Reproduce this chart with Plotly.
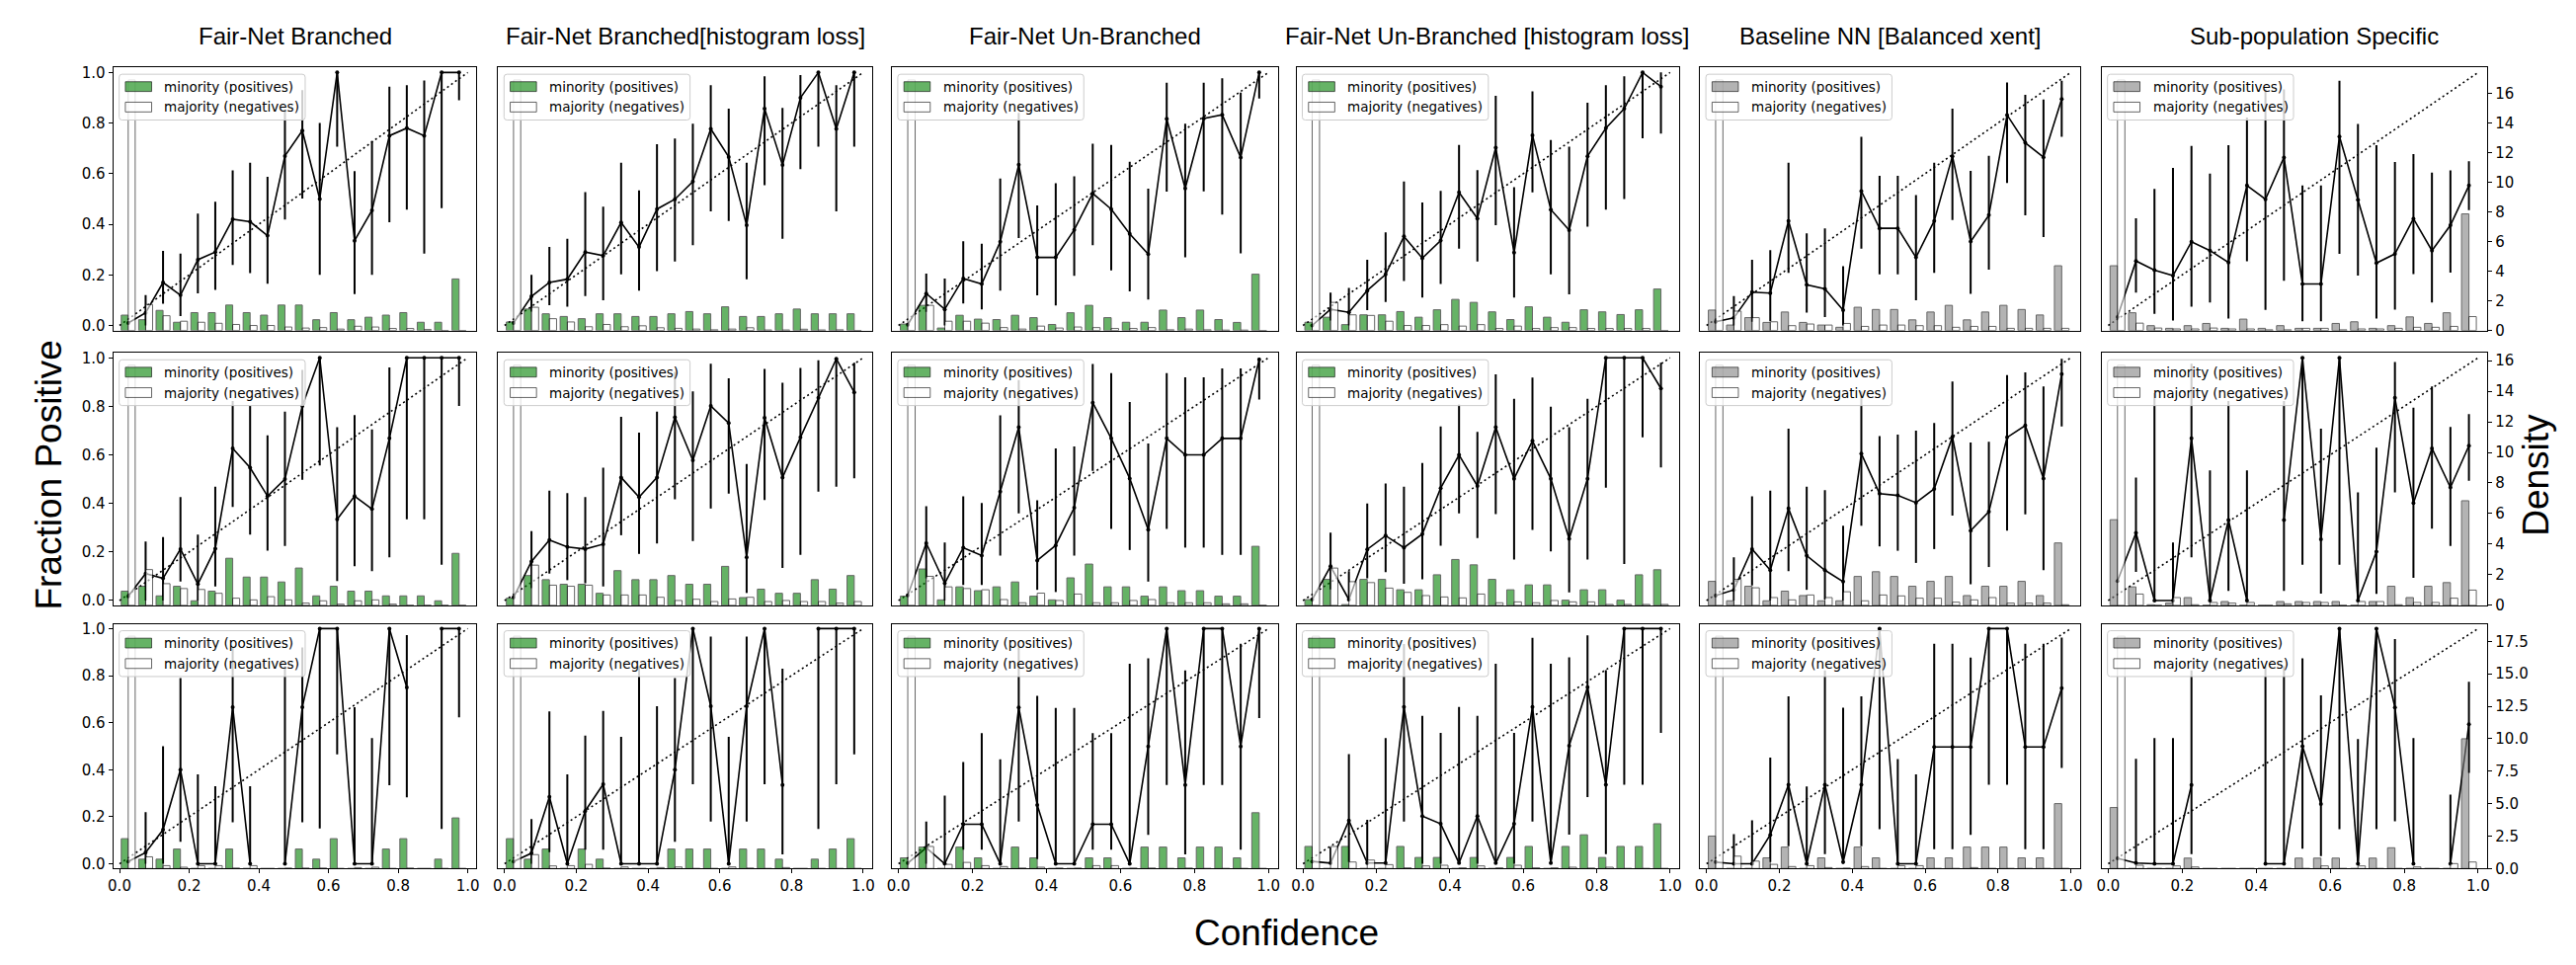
import numpy as np
import plotly.graph_objects as go

W, H = 2608, 977

# ---------------- data ----------------
col_titles = ["Fair-Net Branched", "Fair-Net Branched[histogram loss]", "Fair-Net Un-Branched",
              "Fair-Net Un-Branched [histogram loss]", "Baseline NN [Balanced xent]", "Sub-population Specific"]
legend_labels = ["minority (positives)", "majority (negatives)"]
bin_edges = np.linspace(0, 1, 21)
x_ticks = [0.0, 0.2, 0.4, 0.6, 0.8, 1.0]
frac_ticks = [0.0, 0.2, 0.4, 0.6, 0.8, 1.0]
density_ticks_r1 = [0, 2, 4, 6, 8, 10, 12, 14, 16]
density_ticks_r2 = [0, 2, 4, 6, 8, 10, 12, 14, 16]
density_ticks_r3 = [0, 2.5, 5, 7.5, 10, 12.5, 15, 17.5]
density_max = [17.75, 16.5, 18.85]

# Row 1
r1c1_frac = [0.01, 0.05, 0.17, 0.12, 0.26, 0.29, 0.42, 0.41, 0.355, 0.67, 0.77, 0.50, 1.0, 0.335, 0.455, 0.75, 0.78, 0.75, 1.0, 1.0]
r1c1_lo = [0.01, 0.0, 0.086, 0.037, 0.127, 0.141, 0.239, 0.207, 0.165, 0.419, 0.502, 0.20, 0.707, 0.124, 0.20, 0.408, 0.458, 0.284, 0.464, 0.89]
r1c1_hi = [0.01, 0.12, 0.295, 0.284, 0.442, 0.489, 0.613, 0.643, 0.588, 0.854, 0.93, 0.80, 1.0, 0.61, 0.729, 0.944, 0.95, 0.968, 1.0, 1.0]
r1c1_min = [1.04, 0.73, 1.36, 0.56, 1.21, 1.21, 1.72, 1.21, 1.04, 1.72, 1.72, 0.73, 1.21, 0.73, 0.90, 1.04, 1.21, 0.56, 0.56, 3.48]
r1c1_maj = [16.9, 1.76, 1.0, 0.63, 0.56, 0.49, 0.41, 0.34, 0.34, 0.24, 0.17, 0.2, 0.1, 0.29, 0.24, 0.14, 0.14, 0.07, 0.0, 0.0]

r1c2_frac = [0.01, 0.115, 0.17, 0.183, 0.29, 0.276, 0.407, 0.31, 0.46, 0.499, 0.569, 0.777, 0.666, 0.396, 0.857, 0.634, 0.90, 1.0, 0.777, 1.0]
r1c2_lo = [0.01, 0.055, 0.08, 0.074, 0.116, 0.10, 0.202, 0.138, 0.215, 0.253, 0.317, 0.451, 0.413, 0.183, 0.554, 0.343, 0.618, 0.707, 0.451, 0.707]
r1c2_hi = [0.01, 0.2, 0.31, 0.343, 0.527, 0.47, 0.643, 0.534, 0.716, 0.739, 0.797, 0.95, 0.857, 0.643, 0.985, 0.86, 0.99, 1.0, 0.95, 1.0]
r1c2_min = [0.58, 1.45, 1.13, 0.95, 0.80, 1.13, 1.13, 0.95, 0.95, 1.13, 1.28, 1.13, 1.60, 0.95, 0.95, 1.13, 1.45, 1.13, 1.13, 1.13]
r1c2_maj = [16.9, 1.57, 0.80, 0.58, 0.26, 0.41, 0.26, 0.32, 0.19, 0.15, 0.10, 0.05, 0.10, 0.19, 0.04, 0.04, 0.09, 0.04, 0.05, 0.0]

r1c3_frac = [0.003, 0.126, 0.064, 0.186, 0.164, 0.331, 0.635, 0.269, 0.269, 0.378, 0.522, 0.46, 0.362, 0.282, 0.817, 0.542, 0.818, 0.833, 0.664, 1.0]
r1c3_lo = [0.003, 0.054, 0.0, 0.087, 0.064, 0.138, 0.346, 0.119, 0.079, 0.196, 0.317, 0.218, 0.135, 0.103, 0.529, 0.269, 0.53, 0.438, 0.285, 0.897]
r1c3_hi = [0.003, 0.205, 0.186, 0.333, 0.323, 0.581, 0.84, 0.474, 0.562, 0.59, 0.718, 0.714, 0.647, 0.541, 0.959, 0.797, 0.959, 0.977, 0.92, 1.0]
r1c3_min = [0.44, 1.7, 0.17, 1.03, 0.77, 0.74, 1.03, 0.87, 0.41, 1.2, 1.7, 0.87, 0.56, 0.56, 1.38, 0.87, 1.38, 0.74, 0.55, 3.8]
r1c3_maj = [16.9, 1.7, 0.63, 0.63, 0.5, 0.2, 0.1, 0.3, 0.17, 0.24, 0.2, 0.14, 0.14, 0.2, 0.05, 0.1, 0.05, 0.03, 0.03, 0.0]

r1c4_frac = [0.0, 0.064, 0.052, 0.138, 0.202, 0.352, 0.266, 0.336, 0.526, 0.423, 0.703, 0.288, 0.752, 0.458, 0.377, 0.669, 0.78, 0.857, 1.0, 0.944]
r1c4_lo = [0.0, 0.02, 0.0, 0.061, 0.093, 0.176, 0.11, 0.164, 0.304, 0.253, 0.396, 0.11, 0.526, 0.202, 0.123, 0.39, 0.458, 0.5, 0.74, 0.758]
r1c4_hi = [0.0, 0.13, 0.148, 0.26, 0.368, 0.569, 0.486, 0.532, 0.714, 0.614, 0.908, 0.547, 0.925, 0.733, 0.707, 0.88, 0.95, 0.985, 1.0, 1.0]
r1c4_min = [0.56, 0.9, 0.4, 1.06, 1.06, 1.28, 0.9, 1.4, 2.1, 1.9, 1.26, 0.74, 1.6, 0.9, 0.56, 1.4, 1.26, 1.08, 1.4, 2.8]
r1c4_maj = [16.9, 1.9, 1.06, 1.02, 0.63, 0.34, 0.34, 0.4, 0.3, 0.4, 0.14, 0.3, 0.14, 0.2, 0.2, 0.14, 0.14, 0.14, 0.14, 0.0]

r1c5_frac = [0.015, 0.03, 0.132, 0.128, 0.413, 0.161, 0.145, 0.061, 0.531, 0.384, 0.384, 0.269, 0.413, 0.669, 0.332, 0.436, 0.832, 0.722, 0.665, 0.895]
r1c5_lo = [0.015, 0.0, 0.015, 0.017, 0.208, 0.051, 0.033, 0.0, 0.304, 0.202, 0.202, 0.1, 0.208, 0.417, 0.125, 0.221, 0.563, 0.435, 0.349, 0.746]
r1c5_hi = [0.015, 0.116, 0.26, 0.298, 0.643, 0.364, 0.384, 0.234, 0.746, 0.592, 0.592, 0.515, 0.643, 0.857, 0.611, 0.671, 0.96, 0.912, 0.893, 0.967]
r1c5_min = [1.38, 0.37, 0.87, 0.55, 1.25, 0.55, 0.37, 0.22, 1.57, 1.42, 1.42, 0.72, 1.25, 1.7, 0.72, 1.25, 1.7, 1.42, 1.05, 4.37]
r1c5_maj = [16.9, 1.31, 0.87, 0.59, 0.33, 0.44, 0.37, 0.48, 0.28, 0.37, 0.37, 0.33, 0.33, 0.22, 0.28, 0.28, 0.15, 0.15, 0.15, 0.15]

r1c6_frac = [0.033, 0.255, 0.219, 0.197, 0.331, 0.296, 0.249, 0.553, 0.499, 0.664, 0.164, 0.164, 0.747, 0.497, 0.247, 0.283, 0.422, 0.296, 0.396, 0.553]
r1c6_lo = [0.033, 0.13, 0.046, 0.02, 0.074, 0.091, 0.027, 0.254, 0.062, 0.177, 0.017, 0.017, 0.283, 0.197, 0.027, 0.063, 0.203, 0.091, 0.209, 0.456]
r1c6_hi = [0.033, 0.424, 0.54, 0.623, 0.71, 0.6, 0.713, 0.822, 0.933, 0.933, 0.553, 0.553, 0.967, 0.796, 0.713, 0.646, 0.677, 0.604, 0.613, 0.649]
r1c6_min = [4.37, 1.2, 0.33, 0.15, 0.33, 0.48, 0.15, 0.77, 0.15, 0.33, 0.15, 0.15, 0.48, 0.59, 0.15, 0.33, 0.92, 0.48, 1.2, 7.87]
r1c6_maj = [16.9, 0.5, 0.17, 0.11, 0.11, 0.17, 0.11, 0.11, 0.05, 0.05, 0.15, 0.15, 0.05, 0.11, 0.11, 0.15, 0.22, 0.22, 0.28, 0.94]

# Row 2
r2c1_frac = [0.017, 0.111, 0.091, 0.212, 0.068, 0.214, 0.627, 0.547, 0.43, 0.5, 0.802, 1.0, 0.335, 0.43, 0.377, 0.668, 1.0, 1.0, 1.0, 1.0]
r2c1_lo = [0.017, 0.0, 0.0, 0.078, 0.0, 0.058, 0.386, 0.272, 0.205, 0.225, 0.497, 0.556, 0.08, 0.141, 0.121, 0.178, 0.335, 0.335, 0.147, 0.802]
r2c1_hi = [0.017, 0.243, 0.261, 0.426, 0.272, 0.469, 0.822, 0.802, 0.681, 0.778, 0.95, 1.0, 0.714, 0.764, 0.705, 0.96, 1.0, 1.0, 1.0, 1.0]
r2c1_min = [0.93, 1.25, 0.62, 1.25, 0.3, 0.93, 3.08, 1.85, 1.85, 1.53, 2.44, 0.62, 1.25, 0.93, 0.93, 0.62, 0.62, 0.62, 0.3, 3.4]
r2c1_maj = [15.7, 2.34, 1.42, 1.1, 1.04, 0.79, 0.47, 0.36, 0.57, 0.36, 0.15, 0.3, 0.08, 0.3, 0.36, 0.08, 0.0, 0.0, 0.0, 0.0]

r2c2_frac = [0.013, 0.161, 0.249, 0.221, 0.212, 0.232, 0.507, 0.426, 0.507, 0.755, 0.578, 0.802, 0.731, 0.178, 0.753, 0.507, 0.672, 0.835, 0.996, 0.858]
r2c2_lo = [0.013, 0.051, 0.111, 0.084, 0.071, 0.058, 0.269, 0.192, 0.235, 0.417, 0.245, 0.379, 0.44, 0.031, 0.414, 0.134, 0.188, 0.449, 0.469, 0.504]
r2c2_hi = [0.013, 0.286, 0.453, 0.442, 0.426, 0.547, 0.757, 0.692, 0.778, 0.942, 0.862, 0.976, 0.916, 0.563, 0.954, 0.897, 0.958, 0.99, 1.0, 0.98]
r2c2_min = [0.47, 1.95, 1.68, 1.38, 1.38, 0.79, 2.27, 1.68, 1.68, 1.95, 1.38, 1.38, 2.55, 0.51, 1.06, 0.79, 0.79, 1.68, 1.06, 1.95]
r2c2_maj = [15.7, 2.63, 1.32, 1.25, 1.32, 0.68, 0.68, 0.68, 0.53, 0.32, 0.4, 0.25, 0.42, 0.53, 0.25, 0.32, 0.25, 0.25, 0.15, 0.25]

r2c3_frac = [0.021, 0.236, 0.071, 0.218, 0.185, 0.449, 0.714, 0.165, 0.227, 0.382, 0.815, 0.668, 0.503, 0.292, 0.668, 0.6, 0.6, 0.668, 0.668, 0.993]
r2c3_lo = [0.021, 0.091, 0.0, 0.064, 0.064, 0.185, 0.359, 0.044, 0.035, 0.185, 0.534, 0.295, 0.208, 0.078, 0.295, 0.218, 0.218, 0.188, 0.188, 0.828]
r2c3_hi = [0.021, 0.389, 0.239, 0.429, 0.402, 0.763, 0.908, 0.413, 0.627, 0.635, 0.975, 0.937, 0.818, 0.647, 0.937, 0.92, 0.92, 0.956, 0.956, 1.0]
r2c3_min = [0.6, 2.38, 0.36, 1.21, 0.96, 1.21, 1.53, 0.6, 0.36, 1.8, 2.7, 1.21, 1.21, 0.6, 1.21, 0.96, 0.96, 0.6, 0.6, 3.86]
r2c3_maj = [15.7, 1.9, 1.21, 1.1, 1.02, 0.38, 0.17, 0.8, 0.32, 0.74, 0.17, 0.17, 0.32, 0.38, 0.17, 0.17, 0.17, 0.1, 0.1, 0.0]

r2c4_frac = [0.004, 0.141, 0.004, 0.211, 0.267, 0.218, 0.274, 0.463, 0.6, 0.472, 0.714, 0.502, 0.658, 0.502, 0.254, 0.502, 1.0, 1.0, 1.0, 0.874]
r2c4_lo = [0.004, 0.046, 0.0, 0.091, 0.117, 0.069, 0.087, 0.226, 0.359, 0.257, 0.356, 0.169, 0.291, 0.202, 0.033, 0.169, 0.465, 0.15, 0.672, 0.548]
r2c4_hi = [0.004, 0.28, 0.121, 0.4, 0.482, 0.469, 0.567, 0.717, 0.808, 0.695, 0.932, 0.831, 0.919, 0.799, 0.714, 0.831, 1.0, 1.0, 1.0, 0.98]
r2c4_min = [0.38, 1.7, 0.05, 1.7, 1.7, 1.02, 1.02, 2.0, 3.0, 2.65, 1.7, 1.02, 1.34, 1.34, 0.34, 1.02, 1.02, 0.34, 2.0, 2.33]
r2c4_maj = [15.7, 2.44, 1.55, 1.49, 1.13, 0.85, 0.64, 0.55, 0.49, 0.74, 0.17, 0.23, 0.17, 0.32, 0.23, 0.23, 0.06, 0.06, 0.06, 0.06]

r2c5_frac = [0.02, 0.044, 0.212, 0.125, 0.379, 0.185, 0.125, 0.078, 0.605, 0.44, 0.433, 0.403, 0.46, 0.674, 0.288, 0.366, 0.672, 0.721, 0.503, 0.933]
r2c5_lo = [0.02, 0.0, 0.062, 0.0, 0.121, 0.044, 0.004, 0.0, 0.308, 0.223, 0.205, 0.155, 0.212, 0.35, 0.067, 0.138, 0.288, 0.355, 0.125, 0.717]
r2c5_hi = [0.02, 0.178, 0.429, 0.453, 0.708, 0.469, 0.455, 0.308, 0.862, 0.677, 0.684, 0.7, 0.731, 0.902, 0.651, 0.654, 0.929, 0.94, 0.882, 0.996]
r2c5_min = [1.57, 0.3, 1.25, 0.3, 0.93, 0.64, 0.3, 0.3, 1.89, 2.2, 1.89, 1.25, 1.57, 1.89, 0.64, 1.25, 1.25, 1.57, 0.64, 4.08]
r2c5_maj = [15.7, 1.7, 1.15, 0.51, 0.36, 0.68, 0.51, 0.89, 0.3, 0.68, 0.62, 0.47, 0.47, 0.21, 0.36, 0.51, 0.15, 0.15, 0.15, 0.04]

r2c6_frac = [0.08, 0.279, 0.0, 0.0, 0.668, 0.0, 0.332, 0.0, None, 0.332, 1.0, 0.252, 1.0, 0.0, 0.201, 0.835, 0.402, 0.627, 0.466, 0.638]
r2c6_lo = [0.08, 0.118, 0.0, 0.0, 0.178, 0.0, 0.04, 0.0, None, 0.04, 0.147, 0.028, 0.147, 0.0, 0.027, 0.446, 0.094, 0.296, 0.225, 0.493]
r2c6_hi = [0.08, 0.507, 0.855, 0.239, 0.976, 0.536, 0.822, 0.536, None, 0.822, 1.0, 0.708, 1.0, 0.446, 0.63, 0.983, 0.795, 0.882, 0.715, 0.768]
r2c6_min = [5.6, 1.21, 0.04, 0.15, 0.51, 0.0, 0.25, 0.0, 0.0, 0.25, 0.25, 0.25, 0.25, 0.0, 0.25, 1.25, 0.51, 1.25, 1.49, 6.84]
r2c6_maj = [15.7, 0.74, 0.0, 0.51, 0.04, 0.19, 0.15, 0.19, 0.0, 0.1, 0.19, 0.19, 0.0, 0.25, 0.25, 0.04, 0.19, 0.19, 0.47, 1.0]

# Row 3
r3c1_frac = [0.01, 0.048, 0.145, 0.4, 0.0, 0.0, 0.666, 0.0, None, 0.0, 0.666, 1.0, 1.0, 0.0, 0.0, 1.0, 0.75, None, 1.0, 1.0]
r3c1_lo = [0.01, 0.0, 0.0, 0.094, 0.0, 0.0, 0.177, 0.0, None, 0.0, 0.177, 0.15, 0.465, 0.0, 0.0, 0.334, 0.283, None, 0.148, 0.623]
r3c1_hi = [0.01, 0.22, 0.5, 0.79, 0.38, 0.33, 0.92, 0.33, None, 0.84, 0.92, 1.0, 1.0, 0.666, 0.535, 1.0, 0.972, None, 1.0, 1.0]
r3c1_min = [2.3, 0.72, 0.72, 1.5, 0.0, 0.0, 1.5, 0.0, 0.0, 0.0, 1.5, 0.72, 2.3, 0.0, 0.0, 1.5, 2.3, 0.0, 0.72, 3.9]
r3c1_maj = [17.9, 0.9, 0.22, 0.1, 0.22, 0.22, 0.03, 0.22, 0.0, 0.03, 0.03, 0.03, 0.0, 0.07, 0.1, 0.0, 0.03, 0.0, 0.0, 0.0]

r3c2_frac = [0.01, 0.045, 0.285, 0.0, 0.225, 0.338, 0.0, 0.0, 0.0, 0.4, 1.0, 0.67, 0.0, 0.67, 1.0, 0.335, None, 1.0, 1.0, 1.0]
r3c2_lo = [0.01, 0.0, 0.05, 0.0, 0.06, 0.06, 0.0, 0.0, 0.0, 0.094, 0.338, 0.18, 0.0, 0.18, 0.338, 0.04, None, 0.148, 0.338, 0.465]
r3c2_hi = [0.01, 0.19, 0.648, 0.38, 0.545, 0.65, 0.54, 0.84, 0.67, 0.79, 1.0, 0.966, 0.54, 0.966, 1.0, 0.83, None, 1.0, 1.0, 1.0]
r3c2_min = [2.3, 0.72, 1.5, 0.0, 1.5, 0.72, 0.0, 0.0, 0.0, 1.5, 1.5, 1.5, 0.0, 1.5, 1.5, 0.72, 0.0, 0.72, 1.5, 2.3]
r3c2_maj = [17.9, 1.07, 0.2, 0.22, 0.32, 0.03, 0.12, 0.0, 0.07, 0.12, 0.0, 0.0, 0.12, 0.03, 0.0, 0.07, 0.0, 0.0, 0.0, 0.0]

r3c3_frac = [0.003, 0.068, 0.0, 0.168, 0.168, 0.0, 0.665, 0.25, 0.0, 0.0, 0.168, 0.168, 0.0, 0.499, 1.0, 0.335, 1.0, 1.0, 0.499, 1.0]
r3c3_lo = [0.003, 0.0, 0.0, 0.06, 0.06, 0.0, 0.18, 0.02, 0.0, 0.0, 0.06, 0.06, 0.0, 0.123, 0.335, 0.04, 0.335, 0.335, 0.06, 0.62]
r3c3_hi = [0.003, 0.18, 0.29, 0.433, 0.556, 0.444, 0.922, 0.714, 0.663, 0.663, 0.556, 0.556, 0.851, 0.874, 1.0, 0.822, 1.0, 1.0, 0.936, 1.0]
r3c3_min = [0.82, 1.65, 0.0, 1.65, 0.82, 0.0, 1.65, 0.82, 0.0, 0.0, 0.82, 0.82, 0.0, 1.65, 1.65, 0.82, 1.65, 1.65, 0.82, 4.3]
r3c3_maj = [17.9, 1.7, 0.32, 0.47, 0.22, 0.15, 0.03, 0.1, 0.03, 0.03, 0.22, 0.22, 0.03, 0.03, 0.0, 0.03, 0.0, 0.0, 0.0, 0.0]

r3c4_frac = [0.01, 0.003, 0.184, 0.003, 0.003, 0.667, 0.203, 0.17, 0.003, 0.203, 0.003, 0.17, 0.667, 0.003, 0.502, 0.751, 0.336, 1.0, 1.0, 1.0]
r3c4_lo = [0.01, 0.0, 0.007, 0.0, 0.0, 0.18, 0.0, 0.0, 0.0, 0.0, 0.0, 0.0, 0.18, 0.0, 0.124, 0.284, 0.041, 0.336, 0.336, 0.557]
r3c4_hi = [0.01, 0.07, 0.466, 0.187, 0.535, 0.934, 0.629, 0.557, 0.667, 0.629, 0.85, 0.557, 0.961, 0.85, 0.878, 0.971, 0.823, 1.0, 1.0, 1.0]
r3c4_min = [1.7, 0.0, 1.7, 0.0, 0.0, 1.7, 0.85, 0.85, 0.0, 0.85, 0.0, 0.85, 1.7, 0.0, 1.7, 2.6, 0.85, 1.7, 1.7, 3.45]
r3c4_maj = [17.9, 1.7, 0.5, 0.65, 0.3, 0.05, 0.2, 0.25, 0.05, 0.2, 0.05, 0.25, 0.05, 0.05, 0.1, 0.03, 0.1, 0.0, 0.0, 0.0]

r3c5_frac = [0.007, 0.0, 0.0, 0.123, 0.336, 0.0, 0.336, 0.007, 0.336, 1.0, 0.0, 0.0, 0.497, 0.497, 0.497, 1.0, 1.0, 0.497, 0.497, 0.747]
r3c5_lo = [0.007, 0.0, 0.0, 0.007, 0.075, 0.0, 0.041, 0.0, 0.075, 0.147, 0.0, 0.0, 0.062, 0.062, 0.123, 0.336, 0.336, 0.062, 0.062, 0.407]
r3c5_hi = [0.007, 0.126, 0.185, 0.452, 0.712, 0.329, 0.822, 0.664, 0.712, 1.0, 0.445, 0.38, 0.936, 0.936, 0.877, 1.0, 1.0, 0.936, 0.936, 0.962]
r3c5_min = [2.5, 0.0, 0.0, 0.82, 1.65, 0.0, 0.82, 0.0, 1.65, 0.82, 0.0, 0.0, 0.82, 0.82, 1.65, 1.65, 1.65, 0.82, 0.82, 5.0]
r3c5_maj = [17.9, 0.95, 0.57, 0.32, 0.15, 0.22, 0.07, 0.03, 0.15, 0.0, 0.22, 0.22, 0.0, 0.0, 0.07, 0.0, 0.0, 0.0, 0.0, 0.0]

r3c6_frac = [0.023, 0.003, 0.0, 0.0, 0.335, None, None, None, 0.0, 0.0, 0.5, 0.254, 1.0, 0.0, 1.0, 0.665, 0.0, None, 0.0, 0.593]
r3c6_lo = [0.023, 0.0, 0.0, 0.0, 0.041, None, None, None, 0.0, 0.0, 0.064, 0.033, 0.147, 0.0, 0.147, 0.181, 0.0, None, 0.0, 0.387]
r3c6_hi = [0.023, 0.446, 0.534, 0.534, 0.822, None, None, None, 0.84, 0.84, 0.874, 0.716, 1.0, 0.53, 1.0, 0.956, 0.534, None, 0.294, 0.774]
r3c6_min = [4.7, 0.0, 0.0, 0.0, 0.8, 0.0, 0.0, 0.0, 0.0, 0.0, 0.8, 0.8, 0.8, 0.0, 0.8, 1.6, 0.0, 0.0, 0.0, 10.0]
r3c6_maj = [17.9, 0.25, 0.0, 0.2, 0.12, 0.0, 0.0, 0.0, 0.0, 0.0, 0.0, 0.2, 0.0, 0.2, 0.0, 0.0, 0.12, 0.0, 0.38, 0.5]

panels = [
    [(r1c1_frac, r1c1_lo, r1c1_hi, r1c1_min, r1c1_maj), (r1c2_frac, r1c2_lo, r1c2_hi, r1c2_min, r1c2_maj),
     (r1c3_frac, r1c3_lo, r1c3_hi, r1c3_min, r1c3_maj), (r1c4_frac, r1c4_lo, r1c4_hi, r1c4_min, r1c4_maj),
     (r1c5_frac, r1c5_lo, r1c5_hi, r1c5_min, r1c5_maj), (r1c6_frac, r1c6_lo, r1c6_hi, r1c6_min, r1c6_maj)],
    [(r2c1_frac, r2c1_lo, r2c1_hi, r2c1_min, r2c1_maj), (r2c2_frac, r2c2_lo, r2c2_hi, r2c2_min, r2c2_maj),
     (r2c3_frac, r2c3_lo, r2c3_hi, r2c3_min, r2c3_maj), (r2c4_frac, r2c4_lo, r2c4_hi, r2c4_min, r2c4_maj),
     (r2c5_frac, r2c5_lo, r2c5_hi, r2c5_min, r2c5_maj), (r2c6_frac, r2c6_lo, r2c6_hi, r2c6_min, r2c6_maj)],
    [(r3c1_frac, r3c1_lo, r3c1_hi, r3c1_min, r3c1_maj), (r3c2_frac, r3c2_lo, r3c2_hi, r3c2_min, r3c2_maj),
     (r3c3_frac, r3c3_lo, r3c3_hi, r3c3_min, r3c3_maj), (r3c4_frac, r3c4_lo, r3c4_hi, r3c4_min, r3c4_maj),
     (r3c5_frac, r3c5_lo, r3c5_hi, r3c5_min, r3c5_maj), (r3c6_frac, r3c6_lo, r3c6_hi, r3c6_min, r3c6_maj)],
]
density_ticks = [density_ticks_r1, density_ticks_r2, density_ticks_r3]

# ---------------- layout geometry (pixels) ----------------
cols_px = [(101, 470), (492, 872), (892, 1284), (1303, 1692), (1713, 2099), (2121, 2513)]
rows_px = [(57, 327), (350, 609), (628, 879)]
title_x_px = [286, 682, 1088, 1497, 1907, 2337]

centers = (bin_edges[:-1] + bin_edges[1:]) / 2
bar_w = 0.02


def px(xp, yp):
    return xp / W, 1 - yp / H


def rounded_rect_path(xa, ya, xb, yb, rad):
    pts = []
    def P(x, y):
        u, v = px(x, y)
        return f"{u:.6f},{v:.6f}"
    return (f"M{P(xa + rad, ya)} L{P(xb - rad, ya)} Q{P(xb, ya)} {P(xb, ya + rad)} "
            f"L{P(xb, yb - rad)} Q{P(xb, yb)} {P(xb - rad, yb)} L{P(xa + rad, yb)} "
            f"Q{P(xa, yb)} {P(xa, yb - rad)} L{P(xa, ya + rad)} Q{P(xa, ya)} {P(xa + rad, ya)} Z")


TICKFONT = dict(family="DejaVu Sans", size=15, color="black")
LEGFONT = dict(family="DejaVu Sans", size=13.5, color="black")
fig = go.Figure()
layout = dict(width=W, height=H, margin=dict(l=0, r=0, t=0, b=0), paper_bgcolor="white",
              plot_bgcolor="white", barmode="overlay", showlegend=False)
shapes = []
ann = []

for r in range(3):
    for c in range(6):
        k = r * 6 + c + 1
        frac, lo, hi, mn, mj = panels[r][c]
        xr = "x" if k == 1 else f"x{k}"
        yp = "y" if k == 1 else f"y{2 * k - 1}"
        ys = f"y{2 * k}"
        plus = [None if f is None else h - f for f, h in zip(frac, hi)]
        minus = [None if f is None else f - l for f, l in zip(frac, lo)]
        fig.add_trace(go.Scatter(x=[0, 1], y=[0, 1], mode="lines", xaxis=xr, yaxis=yp,
                                 line=dict(color="black", width=1.6, dash="2px,3px"),
                                 showlegend=False, hoverinfo="skip"))
        fig.add_trace(go.Scatter(x=centers, y=frac, mode="lines+markers", xaxis=xr, yaxis=yp,
                                 line=dict(color="black", width=1.6), marker=dict(color="black", size=4),
                                 error_y=dict(type="data", symmetric=False, array=plus, arrayminus=minus,
                                              color="black", thickness=2, width=0),
                                 showlegend=False))
        mcol = "#008000" if c < 4 else "#808080"
        mcol_rgba = "rgba(0,128,0,0.6)" if c < 4 else "rgba(128,128,128,0.6)"
        fig.add_trace(go.Bar(x=centers - bar_w / 2, y=mn, width=bar_w, xaxis=xr, yaxis=ys,
                             marker=dict(color=mcol, line=dict(color="black", width=1)), opacity=0.6,
                             name=legend_labels[0], showlegend=False))
        fig.add_trace(go.Bar(x=centers + bar_w / 2, y=mj, width=bar_w, xaxis=xr, yaxis=ys,
                             marker=dict(color="white", line=dict(color="black", width=1)), opacity=0.6,
                             name=legend_labels[1], showlegend=False))

        x0, x1 = cols_px[c]
        y0, y1 = rows_px[r]
        xkey = "xaxis" if k == 1 else f"xaxis{k}"
        ypkey = "yaxis" if k == 1 else f"yaxis{2 * k - 1}"
        yskey = f"yaxis{2 * k}"
        layout[xkey] = dict(domain=[x0 / W, x1 / W], anchor=yp, range=[-0.018, 1.025],
                            showline=True, mirror=True, linecolor="black", linewidth=1,
                            showgrid=False, zeroline=False,
                            ticks="outside" if r == 2 else "", ticklen=4, tickcolor="black",
                            showticklabels=(r == 2), tickvals=x_ticks, tickformat=".1f",
                            tickfont=TICKFONT)
        layout[ypkey] = dict(domain=[1 - y1 / H, 1 - y0 / H], anchor=xr, range=[-0.02, 1.02],
                             showline=True, mirror=True, linecolor="black", linewidth=1,
                             showgrid=False, zeroline=False,
                             ticks="outside" if c == 0 else "", ticklen=4, tickcolor="black",
                             showticklabels=(c == 0), tickvals=frac_ticks, tickformat=".1f",
                             tickfont=TICKFONT)
        if c == 5:
            layout[yskey] = dict(overlaying=yp, side="right", anchor=xr, range=[0, density_max[r]],
                                 showgrid=False, zeroline=False, showline=False,
                                 ticks="outside", ticklen=4, tickcolor="black",
                                 tickvals=density_ticks[r], tickformat=".1f" if r == 2 else "d",
                                 tickfont=TICKFONT)
        else:
            layout[yskey] = dict(overlaying=yp, side="right", anchor=xr, range=[0, density_max[r]],
                                 visible=False, showgrid=False, zeroline=False)

        # legend box (matplotlib style)
        lx, ly = x0 + 6, y0 + 7
        shapes.append(dict(type="path", xref="paper", yref="paper", layer="above",
                           path=rounded_rect_path(lx, ly, lx + 189, ly + 47, 3),
                           fillcolor="rgba(255,255,255,0.8)", line=dict(color="#cccccc", width=1)))
        for j, (fill, label) in enumerate([(mcol_rgba, legend_labels[0]),
                                            ("rgba(255,255,255,0.6)", legend_labels[1])]):
            cy = ly + 12.7 + 21 * j
            ua, va = px(lx + 6.3, cy - 5)
            ub, vb = px(lx + 33, cy + 5)
            shapes.append(dict(type="rect", xref="paper", yref="paper", layer="above",
                               x0=ua, x1=ub, y0=vb, y1=va, fillcolor=fill,
                               line=dict(color="rgba(0,0,0,0.6)", width=1)))
            tu, tv = px(lx + 44, cy)
            ann.append(dict(text=label, x=tu, y=tv, xref="paper", yref="paper", showarrow=False,
                            xanchor="left", yanchor="middle", font=LEGFONT))

for c in range(6):
    ann.append(dict(text=col_titles[c], x=title_x_px[c] / W, y=1 - 25 / H, xref="paper", yref="paper",
                    showarrow=False, xanchor="center", yanchor="middle",
                    font=dict(family="Liberation Sans", size=24, color="black")))
ann.append(dict(text="Fraction Positive", x=36 / W, y=1 - 475 / H, xref="paper", yref="paper",
                showarrow=False, textangle=-90, xanchor="center", yanchor="middle",
                font=dict(family="Liberation Sans", size=37, color="black")))
ann.append(dict(text="Density", x=2563 / W, y=1 - 475 / H, xref="paper", yref="paper",
                showarrow=False, textangle=-90, xanchor="center", yanchor="middle",
                font=dict(family="Liberation Sans", size=37, color="black")))
ann.append(dict(text="Confidence", x=1293 / W, y=1 - 945 / H, xref="paper", yref="paper",
                showarrow=False, xanchor="center", yanchor="middle",
                font=dict(family="Liberation Sans", size=37, color="black")))
layout["annotations"] = ann
layout["shapes"] = shapes

fig.update_layout(**layout)
fig.write_html("out.html")
